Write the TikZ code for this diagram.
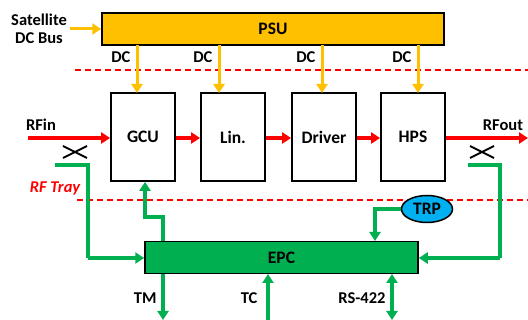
\documentclass[tikz,border=0pt]{standalone}
\usepackage{fontspec}
\setmainfont{Carlito}
\usetikzlibrary{arrows.meta,shapes.geometric}
\definecolor{psuor}{HTML}{FFC000}
\definecolor{epcgr}{HTML}{00B050}
\definecolor{trpbl}{HTML}{00B0F0}
\definecolor{rfred}{HTML}{FF0000}
\begin{document}
\begin{tikzpicture}[x=1pt,y=-1pt,
  big/.style={font=\fontsize{17.5}{20}\selectfont\bfseries},
  lbl/.style={font=\fontsize{16.5}{18}\selectfont\bfseries},
  blk/.style={draw=black,line width=1.8pt,minimum width=64pt,minimum height=88pt,big},
  wide/.style={draw=black,line width=1.5pt,minimum height=32pt,big},
  dcarr/.style={draw=psuor,line width=3pt,-{Triangle[length=9pt,width=11pt]}},
  rfarr/.style={draw=rfred,line width=3.2pt,-{Triangle[length=9pt,width=11pt]}},
  grarr/.style={draw=epcgr,line width=3.2pt,-{Triangle[length=9pt,width=11pt]}},
  grline/.style={draw=epcgr,line width=3.2pt},
  grdbl/.style={draw=epcgr,line width=3.2pt,{Triangle[length=9pt,width=11pt]}-{Triangle[length=9pt,width=11pt]}},
  sep/.style={draw=rfred,line width=1.2pt,dash pattern=on 6pt off 4pt},
  xmark/.style={draw=black,line width=2pt}
]
\useasboundingbox (0,0) rectangle (528,320);
% PSU
\node[wide,fill=psuor,minimum width=342pt] (psu) at (273,29) {PSU};
\node[lbl,align=center] (sat) at (39,29) {Satellite\\[0pt]DC Bus};
\coordinate (satS) at (70,29);
\draw[dcarr] (satS) -- (psu.west);
% separators
\coordinate (s1a) at (75,70); \coordinate (s1b) at (528,70);
\coordinate (s2a) at (77,200); \coordinate (s2b) at (528,200);
\draw[sep] (s1a) -- (s1b);
\draw[sep] (s2a) -- (s2b);
% blocks
\node[blk] (gcu) at (143,137) {GCU};
\node[blk] (lin) at (233,137) {Lin.};
\node[blk] (drv) at (324,137) {Driver};
\node[blk] (hps) at (413,137) {HPS};
% DC arrows
\foreach \b/\x in {gcu/137,lin/219,drv/322,hps/418}{
  \draw[dcarr] (\x,45) -- (\x,93);
  \node[lbl,anchor=east] at (\x-3,57) {DC};
}
% RF chain
\coordinate (rfinS) at (28,138);
\coordinate (rfoutE) at (528,138);
\draw[rfarr] (rfinS) -- (gcu.west |- rfinS);
\draw[rfarr] (gcu.east |- rfinS) -- (lin.west |- rfinS);
\draw[rfarr] (lin.east |- rfinS) -- (drv.west |- rfinS);
\draw[rfarr] (drv.east |- rfinS) -- (hps.west |- rfinS);
\draw[rfarr] (hps.east |- rfinS) -- (rfoutE);
\node[lbl] (rfin) at (41,125) {RFin};
\node[lbl] (rfout) at (503,125) {RFout};
\node[font=\fontsize{16.5}{18}\selectfont\bfseries\itshape,text=rfred] (tray) at (55,188) {RF Tray};
% X marks
\draw[xmark] (63,146) -- (87,158) (63,158) -- (87,146);
\draw[xmark] (470,146) -- (494,158) (470,158) -- (494,146);
% EPC
\node[wide,fill=epcgr,minimum width=273pt] (epc) at (281.5,257.5) {EPC};
% TRP
\node[ellipse,draw=black,line width=1.5pt,fill=trpbl,minimum width=51pt,minimum height=27pt,inner sep=0pt,big] (trp) at (427,209) {TRP};
% green couplings
\draw[grline] (55,165) -- (88,165) -- (88,258);
\draw[grarr] (88,258) -- (epc.west |- 0,258);
\draw[grline] (468,165) -- (500,165) -- (500,258);
\draw[grarr] (500,258) -- (epc.east |- 0,258);
\draw[grarr] (163,241) -- (163,217) -- (145,217) -- (gcu.south -| 145,0);
\draw[grarr] (trp.west) -- (375,209) -- (375,241);
% bottom
\draw[grarr] (163,274) -- (163,320);
\node[lbl,anchor=east] (tm) at (160,298) {TM};
\draw[grarr] (268,320) -- (268,274);
\node[lbl,anchor=east] (tc) at (261,298) {TC};
\draw[grdbl] (392,274) -- (392,320);
\node[lbl,anchor=east] (rs) at (389,298) {RS-422};
\end{tikzpicture}
\end{document}
